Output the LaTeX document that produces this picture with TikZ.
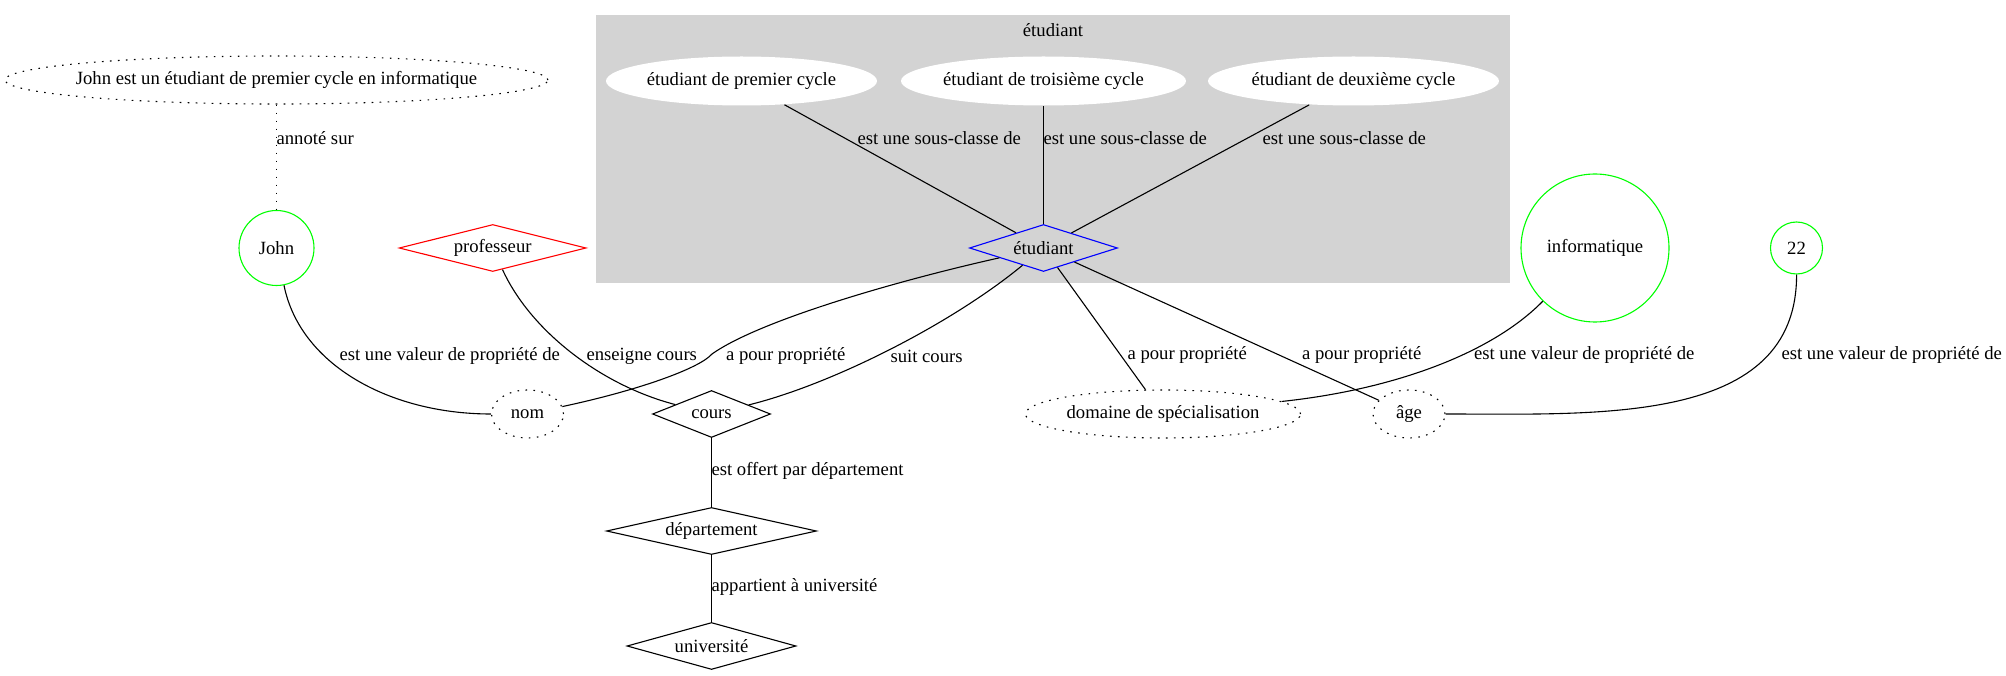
\documentclass[tikz,border=0pt]{standalone}
\usepackage{fontspec}
\setmainfont{Liberation Serif}
\usetikzlibrary{shapes.geometric}
\definecolor{vert}{RGB}{0,255,0}
\definecolor{rouge}{RGB}{255,0,0}
\definecolor{bleu}{RGB}{0,0,255}
\definecolor{grisgroupe}{RGB}{211,211,211}
\newcommand{\gvfont}{\fontsize{18.67pt}{22pt}\selectfont}
\tikzset{
  every node/.style={font=\gvfont},
  valeur/.style={draw=vert, circle, inner sep=0pt},
  concept/.style={draw, diamond, aspect=4, inner sep=0pt, minimum height=47pt},
  propriete/.style={draw, ellipse, dash pattern=on 1.6pt off 6.4pt, inner sep=0pt, minimum height=48pt},
  sousclasse/.style={fill=white, ellipse, inner sep=0pt, minimum height=49pt},
  etiquette/.style={inner sep=0pt, anchor=west},
  pointille/.style={dash pattern=on 1.6pt off 6.4pt}
}

\begin{document}
\begin{tikzpicture}[x=1pt, y=-1pt, line width=1.1pt]
    \useasboundingbox (0,0) rectangle (2006,676);
    \fill[grisgroupe] (596,15) rectangle (1510,283);
    \node (titre) at (1053,30) {étudiant};

    \node[propriete, minimum width=543pt, inner xsep=-9pt] (annotation) at (276.5,80) {John est un étudiant de premier cycle en informatique};
    \node[sousclasse, minimum width=271pt] (premier) at (741.5,81) {étudiant de premier cycle};
    \node[sousclasse, minimum width=285pt] (troisieme) at (1043.5,81) {étudiant de troisième cycle};
    \node[sousclasse, minimum width=291pt] (deuxieme) at (1353.5,81) {étudiant de deuxième cycle};

    \node[valeur, minimum size=75pt] (john) at (276.5,248) {John};
    \node[concept, draw=rouge, minimum width=187pt] (professeur) at (492.7,248) {professeur};
    \node[concept, draw=bleu, minimum width=148pt] (etudiant) at (1043.5,248) {étudiant};
    \node[valeur, minimum size=148pt] (informatique) at (1595,248) {informatique};
    \node[valeur, minimum size=52pt] (vingtdeux) at (1796.5,248) {22};

    \node[propriete, minimum width=72pt] (nom) at (527.5,414) {nom};
    \node[concept, minimum width=118pt] (cours) at (711.5,414) {cours};
    \node[propriete, minimum width=275pt] (domaine) at (1163,414) {domaine de spécialisation};
    \node[propriete, minimum width=72pt] (age) at (1409,414) {âge};
    \node[concept, minimum width=210pt] (departement) at (711.5,531) {département};
    \node[concept, minimum width=169pt] (universite) at (711.5,646) {université};

    \draw[pointille] (annotation) -- (john);
    \draw (premier) -- (etudiant);
    \draw (troisieme) -- (etudiant);
    \draw (deuxieme) -- (etudiant);
    \draw (john) .. controls (300,365) and (390,414) .. (nom);
    \draw (professeur) .. controls (530,330) and (600,385) .. (cours);
    \draw (etudiant) .. controls (900,280) and (760,320) .. (712,354) .. controls (700,368) and (640,390) .. (nom);
    \draw (etudiant) .. controls (950,325) and (830,385) .. (cours);
    \draw (etudiant) -- (domaine);
    \draw (etudiant) -- (age);
    \draw (informatique) .. controls (1490,355) and (1390,390) .. (domaine);
    \draw (vingtdeux) .. controls (1797,425) and (1600,414) .. (age);
    \draw (cours) -- (departement);
    \draw (departement) -- (universite);

    \node[etiquette] (l-annote) at (276,138) {annoté sur};
    \node[etiquette] (l-premier) at (857,138) {est une sous-classe de};
    \node[etiquette] (l-troisieme) at (1043,138) {est une sous-classe de};
    \node[etiquette] (l-deuxieme) at (1262,138) {est une sous-classe de};
    \node[etiquette] (l-john) at (339,356) {est une valeur de propriété de};
    \node[etiquette] (l-enseigne) at (586,356) {enseigne cours};
    \node[etiquette] (l-nom) at (725.5,356) {a pour propriété};
    \node[etiquette] (l-suit) at (890,356) {suit cours};
    \node[etiquette] (l-domaine) at (1127,355) {a pour propriété};
    \node[etiquette] (l-age) at (1301.5,355) {a pour propriété};
    \node[etiquette] (l-informatique) at (1473.5,355) {est une valeur de propriété de};
    \node[etiquette] (l-vingtdeux) at (1781,355) {est une valeur de propriété de};
    \node[etiquette] (l-offert) at (711,471) {est offert par département};
    \node[etiquette] (l-appartient) at (711,587) {appartient à université};
\end{tikzpicture}
\end{document}
